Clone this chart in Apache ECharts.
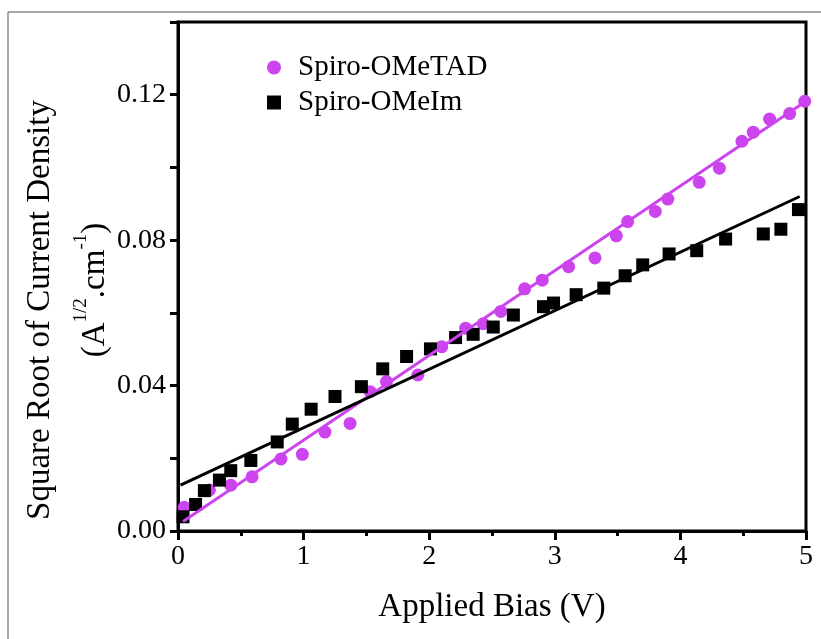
<!DOCTYPE html>
<html>
<head>
<meta charset="utf-8">
<script src="https://cdn.jsdelivr.net/npm/echarts@6/dist/echarts.min.js"></script>
<style>
    html, body { margin: 0; padding: 0; background: #fff; }
    #main { width: 821px; height: 639px; }
</style>
</head>
<body>
<div id="main"></div>
<script>
// bias (V) and sqrt(J)
var ometadX = [0.05, 0.25, 0.42, 0.59, 0.82, 0.99, 1.17, 1.37, 1.53, 1.66, 1.91, 2.10, 2.29, 2.43, 2.57,
    2.76, 2.90, 3.11, 3.32, 3.49, 3.58, 3.80, 3.90, 4.15, 4.31, 4.49, 4.58, 4.71, 4.87, 4.99];
var ometadY = [0.0065, 0.0113, 0.0126, 0.0149, 0.0198, 0.0211, 0.0272, 0.0296, 0.0383, 0.0411, 0.0429, 0.0507, 0.0558, 0.0570, 0.0604,
    0.0666, 0.0690, 0.0727, 0.0751, 0.0812, 0.0851, 0.0879, 0.0913, 0.0959, 0.0998, 0.1072, 0.1097, 0.1133, 0.1148, 0.1182];

var omeimX = [0.04, 0.14, 0.21, 0.33, 0.42, 0.58, 0.79, 0.91, 1.06, 1.25, 1.46, 1.63, 1.82, 2.01, 2.21,
    2.35, 2.51, 2.67, 2.91, 2.99, 3.17, 3.39, 3.56, 3.70, 3.91, 4.13, 4.36, 4.66, 4.80, 4.94];
var omeimY = [0.0039, 0.0073, 0.0111, 0.0140, 0.0166, 0.0194, 0.0245, 0.0294, 0.0335, 0.0370, 0.0397, 0.0446, 0.0480, 0.0501, 0.0532,
    0.0541, 0.0561, 0.0594, 0.0617, 0.0627, 0.0650, 0.0668, 0.0702, 0.0732, 0.0762, 0.0771, 0.0803, 0.0817, 0.0830, 0.0884];

// linear fits (end points)
var fitOmetadX = [0.04, 4.99];
var fitOmetadY = [0.0026, 0.1180];
var fitOmeimX = [0.02, 4.95];
var fitOmeimY = [0.0126, 0.0920];

function pairs(xs, ys) {
    var out = [];
    for (var i = 0; i < xs.length; i++) out.push([xs[i], ys[i]]);
    return out;
}

var magenta = '#cc44ee';
var font = 'Liberation Serif';

var myChart = echarts.init(document.getElementById('main'));

var option = {
    animation: false,
    backgroundColor: '#fff',
    textStyle: { fontFamily: font },
    grid: {
        left: 178, right: 15, top: 22, bottom: 108,
        show: true, borderColor: '#000', borderWidth: 3
    },
    legend: {
        data: ['Spiro-OMeTAD', 'Spiro-OMeIm'],
        orient: 'vertical',
        left: 262, top: 48,
        itemGap: 6,
        itemWidth: 14, itemHeight: 14,
        formatter: '{t|{name}}',
        textStyle: {
            fontFamily: font, fontSize: 29, color: '#000',
            rich: { t: { fontFamily: font, fontSize: 29, color: '#000', padding: [0, 0, 0, 12] } }
        }
    },
    graphic: [
        {
            type: 'rect', silent: true, z: -1,
            shape: { x: 8, y: 12, width: 830, height: 640 },
            style: { fill: 'none', stroke: '#555', lineWidth: 1 }
        },
        {
            type: 'text', x: 40, y: 310, rotation: Math.PI / 2,
            style: {
                text: 'Square Root of Current Density',
                font: '33px "Liberation Serif"', fill: '#000',
                align: 'center', verticalAlign: 'middle'
            }
        },
        {
            type: 'text', x: 92, y: 290, rotation: Math.PI / 2,
            style: {
                text: '{n|(A}{s|1/2}{n|.cm}{s|-1}{n|)}',
                align: 'center', verticalAlign: 'middle',
                rich: {
                    n: { font: '33px "Liberation Serif"', fill: '#000', lineHeight: 40, verticalAlign: 'bottom' },
                    s: { font: '19px "Liberation Serif"', fill: '#000', lineHeight: 40, verticalAlign: 'top' }
                }
            }
        }
    ],
    xAxis: {
        type: 'value',
        min: 0, max: 5, interval: 1,
        name: 'Applied Bias (V)',
        nameLocation: 'middle',
        nameGap: 60,
        nameTextStyle: { fontFamily: font, fontSize: 33, color: '#000' },
        axisLine: { lineStyle: { color: '#000', width: 3 } },
        axisTick: { inside: false, length: 9, lineStyle: { color: '#000', width: 3 } },
        minorTick: { show: true, splitNumber: 2, length: 5, lineStyle: { color: '#000', width: 3 } },
        axisLabel: { fontFamily: font, fontSize: 28, color: '#000', margin: 12 },
        splitLine: { show: false }
    },
    yAxis: {
        type: 'value',
        min: 0, max: 0.14, interval: 0.02,
        axisLine: { lineStyle: { color: '#000', width: 3 } },
        axisTick: { inside: false, length: 8, lineStyle: { color: '#000', width: 3 } },
        axisLabel: {
            fontFamily: font, fontSize: 28, color: '#000', margin: 12,
            formatter: function (v) {
                var k = Math.round(v * 100);
                if (k % 4 !== 0 || k > 12) return '';
                return v.toFixed(2);
            }
        },
        splitLine: { show: false }
    },
    series: [
        {
            name: 'Spiro-OMeTAD',
            type: 'scatter',
            symbol: 'circle',
            symbolSize: 13,
            itemStyle: { color: magenta, opacity: 1 },
            data: pairs(ometadX, ometadY)
        },
        {
            name: 'Spiro-OMeIm',
            type: 'scatter',
            symbol: 'rect',
            symbolSize: 13,
            itemStyle: { color: '#000', opacity: 1 },
            data: pairs(omeimX, omeimY)
        },
        {
            name: 'fit1',
            type: 'line',
            symbol: 'none',
            lineStyle: { color: magenta, width: 3 },
            z: 3,
            data: pairs(fitOmetadX, fitOmetadY)
        },
        {
            name: 'fit2',
            type: 'line',
            symbol: 'none',
            lineStyle: { color: '#000', width: 3 },
            z: 3,
            data: pairs(fitOmeimX, fitOmeimY)
        }
    ]
};

option && myChart.setOption(option);
</script>
</body>
</html>
